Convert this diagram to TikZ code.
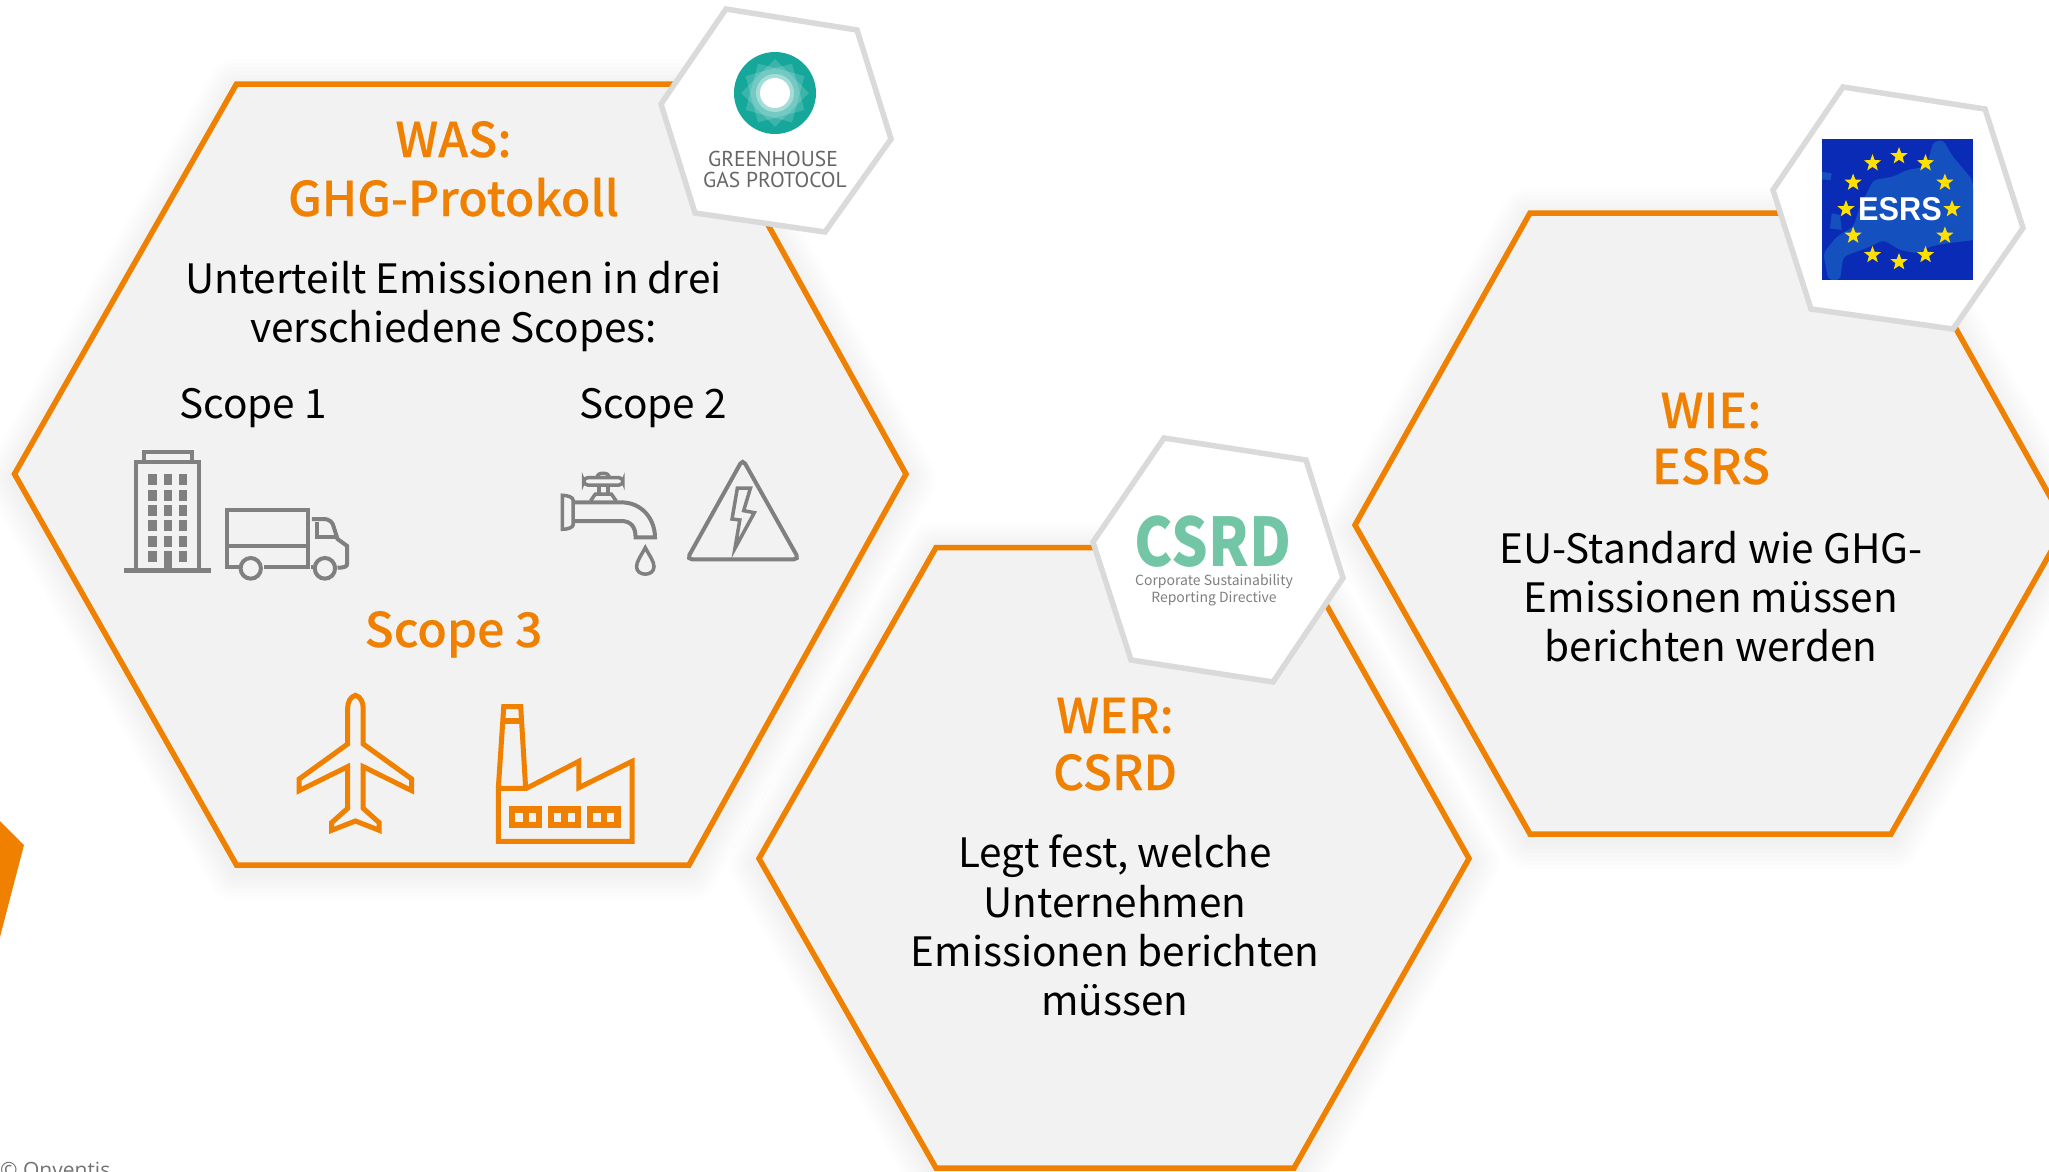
\documentclass[tikz,border=0pt]{standalone}
\usepackage{fontspec}
\usetikzlibrary{shapes.geometric}
\setmainfont{Noto Sans CJK SC}
\newfontfamily\headfont[FakeBold=0.25]{Noto Sans CJK SC Medium}
\newfontfamily\ptsans{PT Sans}
\newfontfamily\arialfont{Liberation Sans}
\newfontfamily\opensans{Open Sans}
\definecolor{orng}{HTML}{F08000}
\definecolor{hexfill}{HTML}{F2F2F2}
\definecolor{logoline}{HTML}{DADADA}
\definecolor{icongray}{HTML}{808080}
\definecolor{teal}{HTML}{16A79B}
\definecolor{csrdgreen}{HTML}{72C6A5}
\definecolor{esrsblue}{HTML}{0A2BB5}
\definecolor{esrsland}{HTML}{1450BE}
\definecolor{staryellow}{HTML}{FFE000}
\tikzset{
  hexmain/.style={draw=orng,fill=hexfill,line width=5.5pt,line join=miter},
  hexlogo/.style={draw=logoline,fill=white,line width=5.5pt,line join=miter},
  heading/.style={anchor=base,text=orng,font=\headfont\fontsize{48}{48}\selectfont,align=center,inner sep=0pt},
  bodytext/.style={anchor=base,text=black,font=\fontsize{40.5}{40.5}\selectfont,align=center,inner sep=0pt},
  grayicon/.style={draw=icongray,line width=4pt,fill=none,line join=miter},
  orngicon/.style={draw=orng,line width=5pt,fill=none,line join=miter},
  halo/.style={draw=black,draw opacity=0.008,line join=round},
  eustar/.style={star,star points=5,star point ratio=2.4,fill=staryellow,inner sep=0pt,minimum size=18pt,draw=none}
}
\newcommand{\softshadow}[1]{%
  \foreach \w in {60,52,44,36,28,20,12}{\draw[halo,line width=\w pt,yshift=-5pt] #1;}}
\begin{document}
\begin{tikzpicture}[x=1pt,y=-1pt]
\useasboundingbox (0,0) rectangle (2049,1171);
\clip (0,0) rectangle (2049,1171);
\fill[white] (0,0) rectangle (2049,1171);
\fill[orng] (0,821) -- (24,845) -- (0,937) -- cycle;

% hexagon 1
\softshadow{(236.5,84) -- (690,84) -- (906,474) -- (689,865) -- (236.5,865) -- (14.5,474) -- cycle}
\draw[hexmain] (236.5,84) -- (690,84) -- (906,474) -- (689,865) -- (236.5,865) -- (14.5,474) -- cycle;
% hexagon 2
\softshadow{(936,547.5) -- (1294,547.5) -- (1469,858.5) -- (1294,1168) -- (936,1168) -- (759,858.5) -- cycle}
\draw[hexmain] (936,547.5) -- (1294,547.5) -- (1469,858.5) -- (1294,1168) -- (936,1168) -- (759,858.5) -- cycle;
% hexagon 3
\softshadow{(1530,213) -- (1891,213) -- (2066,525) -- (1891,834) -- (1530,834) -- (1355,525) -- cycle}
\draw[hexmain] (1530,213) -- (1891,213) -- (2066,525) -- (1891,834) -- (1530,834) -- (1355,525) -- cycle;

% logo hexagons
\draw[hexlogo] (726,9) -- (857,30) -- (891,139) -- (825,232) -- (695,213) -- (661,104) -- cycle;
\draw[hexlogo] (1164,438) -- (1306,460) -- (1343,578) -- (1273,682) -- (1131,660) -- (1093,542) -- cycle;
\draw[hexlogo] (1843,87) -- (1985,109) -- (2023,228) -- (1953,329) -- (1811,309) -- (1773,190) -- cycle;

% GHG logo
\fill[teal] (775,93) circle (41);
\foreach \a in {15,45,75}{\fill[white,opacity=.16,rotate around={\a:(775,93)}] (751,69) rectangle (799,117);}
\fill[white,opacity=.35] (775,93) circle (19);
\fill[white] (775,93) circle (15);
\node[text=black!60,font=\ptsans\fontsize{21.5}{21.5}\selectfont,inner sep=0pt] (ghg1) at (773,159) {GREENHOUSE};
\node[text=black!60,font=\ptsans\fontsize{21.5}{21.5}\selectfont,inner sep=0pt] (ghg2) at (775,180) {GAS PROTOCOL};

% CSRD logo
\node[text=csrdgreen,font=\fontsize{67}{67}\selectfont\bfseries,inner sep=0pt,xscale=.86,transform shape] (csrd) at (1213,542) {CSRD};
\node[text=icongray,font=\fontsize{14}{14}\selectfont,inner sep=0pt] (csrd1) at (1214,582) {Corporate Sustainability};
\node[text=icongray,font=\fontsize{14}{14}\selectfont,inner sep=0pt] (csrd2) at (1214,599) {Reporting Directive};

% ESRS logo
\fill[esrsblue] (1822,139) rectangle (1973,280);
\begin{scope}
\clip (1822,139) rectangle (1973,280);
\begin{scope}[shift={(1760,80)},x=0.3333pt,y=-0.3333pt]
\fill[esrsland,rounded corners=4pt] (300,380) -- (340,300) -- (400,290) -- (440,270) -- (500,260) -- (520,185) -- (550,180) -- (575,225) -- (638,300) -- (645,480) -- (560,490) -- (510,500) -- (470,520) -- (420,510) -- (370,480) -- (330,500) -- (250,530) -- (240,600) -- (205,600) -- (190,520) -- (230,470) -- (280,440) -- cycle;
\fill[esrsland] (215,400) -- (240,405) -- (245,450) -- (210,445) -- cycle;
\fill[esrsland] (180,275) -- (215,280) -- (212,300) -- (180,298) -- cycle;
\end{scope}
\end{scope}
\foreach \i in {1,...,12}{\node[eustar] (star\i) at ({1899+53*cos(30*\i)},{209+53*sin(30*\i)}) {};}
\node[text=white,font=\arialfont\bfseries\fontsize{33}{33}\selectfont,inner sep=0pt,xscale=.93,transform shape] (esrs) at (1900,209) {ESRS};

% copyright
\node[anchor=base west,text=black!55,font=\opensans\fontsize{21}{21}\selectfont,inner sep=0pt] (copy) at (0,1177) {© Onventis};

% texts hex 1
\node[heading] (was) at (453.5,157) {WAS:};
\node[heading] (ghg) at (453.5,216) {GHG-Protokoll};
\node[bodytext] (t1a) at (453.5,293) {Unterteilt Emissionen in drei};
\node[bodytext] (t1b) at (453.5,342) {verschiedene Scopes:};
\node[bodytext] (sc1) at (253,418) {Scope 1};
\node[bodytext] (sc2) at (653,418) {Scope 2};
\node[heading] (sc3) at (453.5,647) {Scope 3};

% texts hex 2
\node[heading] (wer) at (1115,733) {WER:};
\node[heading] (csrdh) at (1115,790) {CSRD};
\node[bodytext] (t2a) at (1115,867) {Legt fest, welche};
\node[bodytext] (t2b) at (1115,917) {Unternehmen};
\node[bodytext] (t2c) at (1115,966) {Emissionen berichten};
\node[bodytext] (t2d) at (1115,1015) {müssen};

% texts hex 3
\node[heading] (wie) at (1711,428) {WIE:};
\node[heading] (esrsh) at (1711,484) {ESRS};
\node[bodytext] (t3a) at (1711,563) {EU-Standard wie GHG-};
\node[bodytext] (t3b) at (1711,612) {Emissionen müssen};
\node[bodytext] (t3c) at (1711,661) {berichten werden};

% icons
\begin{scope}[shift={(100,420)},x=0.4847pt,y=-0.3333pt]
% building
\draw[grayicon] (75,450) -- (75,125) -- (205,125) -- (205,450);
\draw[grayicon] (90,125) -- (90,97) -- (190,97) -- (190,125);
\draw[draw=icongray,line width=5pt] (50,452) -- (230,452);
\foreach \yy in {163,209,255,301,347,393}{
  \fill[icongray] (100,\yy) rectangle (117,\yy+33);
  \fill[icongray] (163,\yy) rectangle (180,\yy+33);
}
\foreach \yy in {163,209,255,301,347}{\fill[icongray] (132,\yy) rectangle (149,\yy+33);}
\fill[icongray] (132,393) rectangle (149,452);
% truck
\draw[grayicon] (288,442) -- (262,442) -- (262,270) -- (430,270) -- (430,442) -- (338,442);
\draw[grayicon] (262,377) -- (430,377);
\draw[grayicon] (437,297) -- (460,297) .. controls (475,297) and (480,308) .. (482,320) -- (490,357) -- (510,378) -- (510,430) .. controls (510,440) and (505,443) .. (490,443);
\draw[grayicon] (447,305) -- (447,352) -- (487,352);
\draw[grayicon] (435,442) -- (440,442);
\draw[grayicon] (311,445) circle [x radius=21,y radius=31];
\draw[grayicon] (464,445) circle [x radius=21,y radius=31];
% faucet
\draw[grayicon,line width=3.5pt] (954,226) .. controls (965,226) and (976,232) .. (976,240) -- (976,315) .. controls (976,322) and (965,328) .. (954,328) -- cycle;
\draw[grayicon] (976,247) -- (1075,247) .. controls (1120,247) and (1145,300) .. (1145,352) -- (1105,352) .. controls (1105,320) and (1095,303) .. (1075,303) -- (976,303);
\draw[grayicon,line width=3.5pt] (1012,243) -- (1022,222) -- (1055,222) -- (1065,243);
\draw[grayicon,line width=3.5pt] (1030,222) -- (1030,195) (1048,222) -- (1048,195);
\draw[grayicon,line width=3.5pt,rounded corners=4pt] (998,173) rectangle (1079,195);
\draw[grayicon,line width=3.5pt,rounded corners=3pt] (1025,173) -- (1028,160) -- (1048,160) -- (1051,173);
\draw[grayicon,line width=3.5pt] (1125,383) .. controls (1115,410) and (1107,425) .. (1107,440) .. controls (1107,470) and (1143,470) .. (1143,440) .. controls (1143,425) and (1135,410) .. (1125,383) -- cycle;
% warning triangle
\draw[grayicon,rounded corners=5pt] (1326,118) -- (1442,418) -- (1211,418) -- cycle;
\draw[grayicon,line width=3.5pt] (1315,204) -- (1342,204) -- (1328,272) -- (1350,278) -- (1310,385) -- (1320,300) -- (1304,297) -- cycle;
% plane
\draw[orngicon] (527,826) .. controls (538,830) and (543,848) .. (543,864) -- (543,972) -- (643,1077) -- (643,1112) -- (543,1040) -- (543,1165) -- (576,1208) -- (576,1231) -- (527,1203) -- (478,1231) -- (478,1208) -- (511,1165) -- (511,1040) -- (411,1112) -- (411,1077) -- (511,972) -- (511,864) .. controls (511,848) and (516,830) .. (527,826) -- cycle;
% factory
\draw[orngicon] (822,1264) -- (1098,1264) -- (1098,1024) -- (988,1103) -- (988,1024) -- (880,1105) -- (822,1105) -- cycle;
\draw[orngicon] (822,1100) -- (833,860) -- (868,860) -- (878,1100);
\fill[orng] (830,895) rectangle (871,912);
\fill[orng] (844,1158) rectangle (912,1223);
\fill[orng] (925,1158) rectangle (992,1223);
\fill[orng] (1005,1158) rectangle (1074,1223);
\foreach \xx in {857,885,937,966,1018,1046}{\fill[hexfill] (\xx,1178) rectangle (\xx+15,1205);}
\end{scope}
\end{tikzpicture}
\end{document}
